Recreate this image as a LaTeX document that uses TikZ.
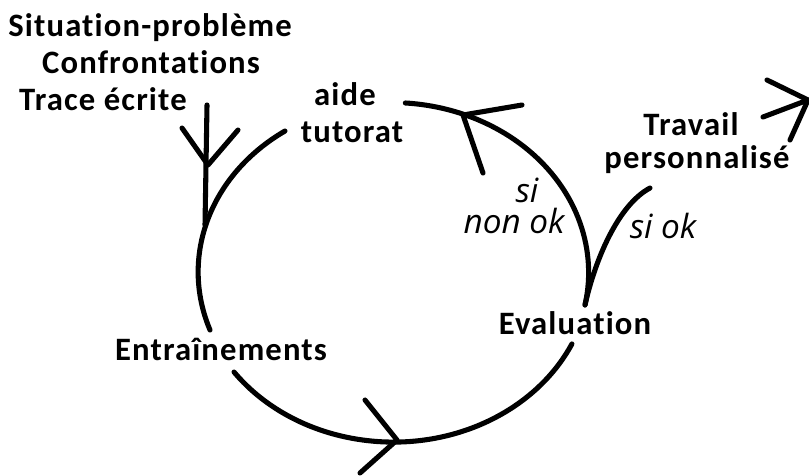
\documentclass[tikz,border=0pt]{standalone}
\usepackage{fontspec}
\setmainfont{Carlito}[LetterSpace=3.5,Ligatures=NoCommon]
\newfontfamily\okfont{Open Sans}

\begin{document}
\begin{tikzpicture}[x=0.75pt,y=-0.75pt,
                    line width=3.8pt,line cap=round,line join=round,
                    lbl/.style={font=\fontsize{24.5}{28}\selectfont\bfseries,anchor=base,inner sep=0pt},
                    cond/.style={font=\okfont\itshape\fontsize{25}{29}\selectfont,anchor=base,inner sep=0pt}
                   ]
  \useasboundingbox (0,0) rectangle (809,475);

  % labels
  \node[lbl] (sit)   at (150,36)  {Situation-problème};
  \node[lbl] (conf)  at (151,73)  {Confrontations};
  \node[lbl] (trace) at (103,110) {Trace écrite};
  \node[lbl] (aide)  at (345,105) {aide};
  \node[lbl] (tut)   at (352,142) {tutorat};
  \node[lbl] (trav)  at (691,135) {Travail};
  \node[lbl] (perso) at (697,168) {personnalisé};
  \node[lbl] (entr)  at (221,360) {Entraînements};
  \node[lbl] (eval)  at (575,334) {Evaluation};
  \node[cond] (si)    at (527,202) {si};
  \node[cond] (nonok) at (514,233) {non ok};
  \node[cond] (siok)  at (663,238) {si ok};

  % points on the cycle
  \coordinate (tutS)  at (285,131);
  \coordinate (entrS) at (234,372);
  \coordinate (evalS) at (585,305);
  \coordinate (traceS) at (207,105);
  \coordinate (traceE) at (205,225);
  \coordinate (okE)   at (650,188);
  \coordinate (travS) at (763,117);

  % the cycle
  \draw (tutS)  arc[start angle=236, end angle=160, x radius=197, y radius=170];
  \draw (entrS) arc[start angle=144, end angle=25,  x radius=197, y radius=170];
  \draw (evalS) arc[start angle=11,  end angle=-86, x radius=197, y radius=170];
  \draw (traceS) -- (traceE);
  \draw (evalS) .. controls (595,260) and (618,205) .. (okE);
  \draw (travS) -- (808,100);

  % arrow heads
  \coordinate (tipL) at (208,165);
  \coordinate (tipB) at (397,440);
  \coordinate (tipT) at (463,115);
  \coordinate (tipR) at (808,100);
  \draw (182,128) -- (tipL) -- (238,130);
  \draw (365,400) -- (tipB) -- (360,473);
  \draw (522,105) -- (tipT) -- (483,173);
  \draw (767,80)  -- (tipR) -- (790,140);
\end{tikzpicture}
\end{document}
